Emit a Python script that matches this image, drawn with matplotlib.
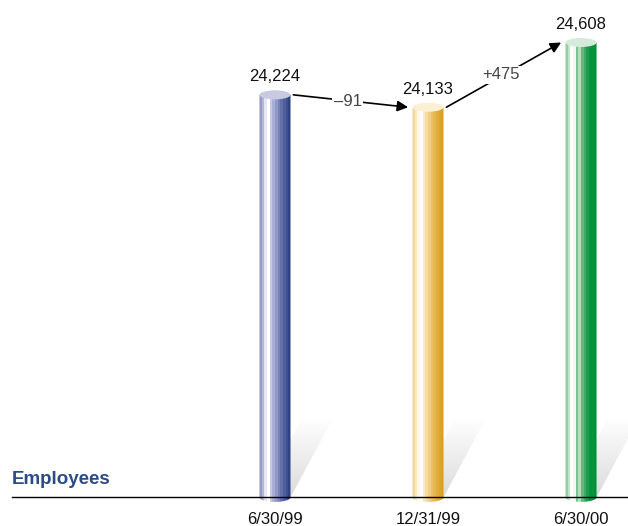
import numpy as np
import matplotlib
matplotlib.use('Agg')
import matplotlib.pyplot as plt
from matplotlib.patches import Ellipse, Polygon, PathPatch
from matplotlib.path import Path
from matplotlib.colors import to_rgb

# data
dates = ['6/30/99', '12/31/99', '6/30/00']
employees = [24224, 24133, 24608]

# cylinder shading bands, left to right
band_colors = [
    ['#9a9cc8', '#b4b6da', '#e4e6f2', '#ffffff', '#c4c8e4', '#a8aed6',
     '#9098c8', '#7882b8', '#6270a8', '#4e5e9a', '#3e508e', '#2f4282'],
    ['#f0d8a0', '#f8e8c4', '#fff8ec', '#ffffff', '#fbe9c0', '#f6dca0',
     '#f0cd80', '#eac064', '#e6b650', '#e2ac3c', '#dea42c', '#dca020'],
    ['#8fcfa0', '#c0e4c8', '#ffffff', '#f0f8f2', '#78c48e', '#b4dec0',
     '#64b87e', '#3fa862', '#1d9c4c', '#00963c', '#00963c', '#00923a'],
]
cap_colors = ['#c8cae2', '#fbf0d4', '#d4eadb']

plt.rcParams['font.family'] = ['Liberation Sans', 'DejaVu Sans']

fig = plt.figure(figsize=(6.28, 5.26), dpi=100)
ax = fig.add_axes([0, 0, 1, 1])
ax.axis('off')

XMIN, XMAX = -1.797, 2.307
YMIN, YMAX = 21060, 24920
BASE = 21270          # value at the baseline
W = 0.203             # cylinder width
EH = 66               # cylinder cap ellipse height
SH_DX, SH_H = 0.28, 587  # shadow skew and height


def cylinder(x, v, colors, cap):
    # shadow cast up and to the right
    sh = Polygon([(x - W / 2, BASE), (x + W / 2, BASE),
                  (x + W / 2 + SH_DX, BASE + SH_H), (x - W / 2 + SH_DX, BASE + SH_H)],
                 closed=True, facecolor='none', edgecolor='none')
    ax.add_patch(sh)
    rgba = np.zeros((64, 1, 4))
    rgba[..., :3] = 0.5
    rgba[..., 3] = np.linspace(0.0, 0.28, 64)[:, None]
    im = ax.imshow(rgba, extent=[x - W / 2, x + W / 2 + SH_DX, BASE, BASE + SH_H],
                   aspect='auto', interpolation='bilinear', zorder=1)
    im.set_clip_path(sh)

    # body with rounded bottom
    t = np.linspace(np.pi, 2 * np.pi, 40)
    arc = np.column_stack([x + W / 2 * np.cos(t), BASE + EH / 2 * np.sin(t)])
    verts = np.vstack([[(x - W / 2, v)], arc, [(x + W / 2, v)], [(x - W / 2, v)]])
    codes = [Path.MOVETO] + [Path.LINETO] * (len(verts) - 2) + [Path.CLOSEPOLY]
    body = PathPatch(Path(verts, codes), facecolor='none', edgecolor='none')
    ax.add_patch(body)
    img = np.array([to_rgb(c) for c in colors])[None, :, :]
    bim = ax.imshow(img, extent=[x - W / 2, x + W / 2, BASE - EH, v],
                    aspect='auto', interpolation='nearest', zorder=2)
    bim.set_clip_path(body)

    ax.add_patch(Ellipse((x, v), W, EH, facecolor=cap, edgecolor='none', zorder=3))


xs = np.arange(len(dates))
for x, v, colors, cap, d in zip(xs, employees, band_colors, cap_colors, dates):
    cylinder(x, v, colors, cap)
    ax.annotate(f'{v:,}', (x, v), xytext=(0, 13), textcoords='offset points',
                ha='center', va='center', fontsize=12, color='#111111', zorder=6)
    ax.annotate(d, (x, BASE), xytext=(0, -16), textcoords='offset points',
                ha='center', va='center', fontsize=12, color='#111111')

# change arrows between periods
for i in range(len(employees) - 1):
    start = (xs[i] + 0.12, employees[i])
    end = (xs[i + 1] - 0.13, employees[i + 1])
    ax.annotate('', xy=end, xytext=start,
                arrowprops=dict(arrowstyle='-|>', color='black', lw=1.2,
                                mutation_scale=16, shrinkA=0, shrinkB=0), zorder=4)
    d = employees[i + 1] - employees[i]
    label = f'{d:+,}'.replace('-', '\u2013')
    ax.text((start[0] + end[0]) / 2 - 0.02, (start[1] + end[1]) / 2, label,
            ha='center', va='center', fontsize=12, color='#444444', zorder=5,
            bbox=dict(facecolor='white', edgecolor='none', pad=1.0))

ax.plot([-1.72, XMAX], [BASE, BASE], color='black', lw=1.0, zorder=2.5)
ax.text(-1.72, BASE + 70, 'Employees', ha='left', va='bottom', fontsize=13.5,
        fontweight='bold', color='#2b4a86')

ax.set_xlim(XMIN, XMAX)
ax.set_ylim(YMIN, YMAX)
fig.savefig('out.png', dpi=100)
